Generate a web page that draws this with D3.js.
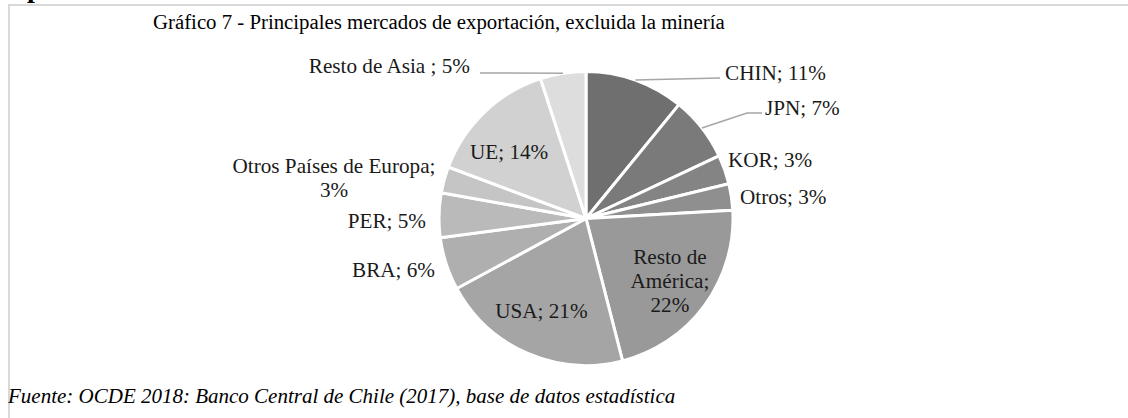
<!DOCTYPE html>
<html lang="es">
<head>
<meta charset="utf-8">
<title>Gráfico 7 - Principales mercados de exportación</title>
<script src="https://cdn.jsdelivr.net/npm/d3@7"></script>
<style>
  html, body { margin: 0; padding: 0; background: #fff; }
  svg { display: block; font-family: "Liberation Serif", "Times New Roman", serif; }
</style>
</head>
<body>
<script>
var categories = ["CHIN", "JPN", "KOR", "Otros", "Resto de América", "USA", "BRA", "PER",
                  "Otros Países de Europa", "UE", "Resto de Asia"];
var values = [10.9, 7.1, 3.2, 2.9, 21.9, 21.1, 5.8, 4.9, 2.9, 14.3, 5.0];
var pctLabels = ["11%", "7%", "3%", "3%", "22%", "21%", "6%", "5%", "3%", "14%", "5%"];
var greys = ["#6f6f6f", "#7a7a7a", "#848484", "#8f8f8f", "#999999", "#a5a5a5",
             "#afafaf", "#bababa", "#c5c5c5", "#d1d1d1", "#dddddd"];

var w = 1128, h = 418;
var cx = 586, cy = 218.5, r = 147;

// como se escribe cada etiqueta: lineas, posicion y ancla
var labelLayout = {
  "CHIN":                   { lines: ["CHIN; 11%"], x: 725, y: 80, anchor: "start", leader: [[720, 78]] },
  "JPN":                    { lines: ["JPN; 7%"], x: 765, y: 115, anchor: "start", leader: [[747, 113], [762, 113]] },
  "KOR":                    { lines: ["KOR; 3%"], x: 728, y: 167, anchor: "start" },
  "Otros":                  { lines: ["Otros; 3%"], x: 740, y: 204, anchor: "start" },
  "Resto de América":       { lines: ["Resto de", "América;", "22%"], inside: true, dx: 0, dy: 1 },
  "USA":                    { lines: ["USA; 21%"], inside: true, dx: -3, dy: -3 },
  "BRA":                    { lines: ["BRA; 6%"], x: 435, y: 277, anchor: "end" },
  "PER":                    { lines: ["PER; 5%"], x: 426, y: 228, anchor: "end" },
  "Otros Países de Europa": { lines: ["Otros Países de Europa;", "3%"], x: 334, y: 173, anchor: "middle" },
  "UE":                     { lines: ["UE; 14%"], inside: true, dx: -5, dy: 9 },
  "Resto de Asia":          { lines: ["Resto de Asia ; 5%"], x: 470, y: 73, anchor: "end", leader: [[480, 73]] }
};

var svg = d3.select("body").append("svg")
    .attr("width", w)
    .attr("height", h);

// letra cortada del encabezado de la pagina
svg.append("text")
    .attr("x", 27).attr("y", -3)
    .attr("font-size", 28).attr("font-weight", "bold")
    .text("p");

// marco del grafico
svg.append("line").attr("x1", 9).attr("y1", 5).attr("x2", w).attr("y2", 5)
    .attr("stroke", "#d9d9d9").attr("stroke-width", 2);
svg.append("line").attr("x1", 9).attr("y1", 4).attr("x2", 9).attr("y2", h)
    .attr("stroke", "#d9d9d9").attr("stroke-width", 2);

svg.append("text")
    .attr("x", 153).attr("y", 29)
    .attr("font-size", 20.8)
    .attr("fill", "#000")
    .text("Gráfico 7 - Principales mercados de exportación, excluida la minería");

var data = categories.map(function(c, i) {
  return { name: c, value: values[i], pct: pctLabels[i], color: greys[i] };
});

var pie = d3.pie().sort(null).value(function(d) { return d.value; });
var arcs = pie(data);

var arc = d3.arc().innerRadius(0).outerRadius(r);
var edgeArc = d3.arc().innerRadius(r).outerRadius(r);
var insideArc = d3.arc().innerRadius(104).outerRadius(104);

var g = svg.append("g").attr("transform", "translate(" + cx + "," + cy + ")");

g.selectAll("path.slice")
  .data(arcs)
  .enter()
  .append("path")
  .attr("class", "slice")
  .attr("d", arc)
  .attr("fill", function(d) { return d.data.color; })
  .attr("stroke", "#fff")
  .attr("stroke-width", 3)
  .attr("stroke-linejoin", "round");

// lineas guia
arcs.forEach(function(d) {
  var lay = labelLayout[d.data.name];
  if (!lay.leader) return;
  var p = edgeArc.centroid(d);
  var pts = [[cx + p[0], cy + p[1]]].concat(lay.leader);
  svg.append("path")
    .attr("d", d3.line()(pts))
    .attr("fill", "none")
    .attr("stroke", "#a6a6a6")
    .attr("stroke-width", 1.5);
});

// etiquetas
var lineH = 24;
arcs.forEach(function(d) {
  var lay = labelLayout[d.data.name];
  var x, y, anchor;
  if (lay.inside) {
    var c = insideArc.centroid(d);
    anchor = "middle";
    x = cx + c[0] + lay.dx;
    y = cy + c[1] + 7 - (lay.lines.length - 1) * lineH / 2 + lay.dy;
  } else {
    x = lay.x; y = lay.y; anchor = lay.anchor;
  }
  var t = svg.append("text")
    .attr("font-size", 21.2)
    .attr("fill", "#1a1a1a")
    .attr("text-anchor", anchor);
  lay.lines.forEach(function(s, i) {
    t.append("tspan").attr("x", x).attr("y", y + i * lineH).text(s);
  });
});

svg.append("text")
    .attr("x", 8).attr("y", 403)
    .attr("font-size", 21)
    .attr("font-style", "italic")
    .text("Fuente: OCDE 2018: Banco Central de Chile (2017), base de datos estadística");
</script>
</body>
</html>
